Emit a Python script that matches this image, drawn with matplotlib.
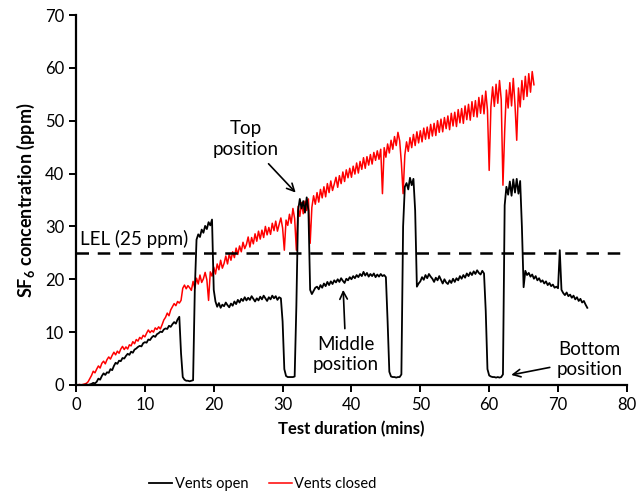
import numpy as np
import matplotlib
matplotlib.use("Agg")
import matplotlib.pyplot as plt

plt.rcParams['font.family'] = ['Lato', 'DejaVu Sans']
plt.rcParams['mathtext.fontset'] = 'custom'
plt.rcParams['mathtext.rm'] = 'Lato'
plt.rcParams['mathtext.bf'] = 'Lato:bold'

# sampling interval of the logger (mins)
step = 0.25

# SF6 concentration (ppm), vents closed, one reading per 0.25 min
closed_ppm = [
    0.0, 0.0, 0.1, 0.0,  0.1, 0.2, 0.3, 0.6,  1.2, 1.8, 2.6, 2.3,
    3.0, 3.6, 3.2, 4.1,  4.5, 4.0, 4.8, 5.3,  4.9, 5.6, 6.2, 5.7,
    6.4, 6.0, 6.8, 7.3,  6.7, 7.2, 6.8, 7.6,  7.4, 8.2, 7.8, 8.6,
    8.3, 9.0, 8.7, 9.4,  9.1, 9.8, 10.4, 9.9,  10.3, 10.0, 10.8, 10.5,
    11.0, 10.6, 11.4, 12.3,  12.8, 13.6, 13.1, 14.2,  14.8, 15.4, 15.0, 15.8,
    15.5, 16.0, 18.3, 18.9,  18.2, 18.8, 18.4, 17.9,  19.6, 18.3, 20.2, 19.1,
    20.8, 19.4, 20.1, 21.3,  19.9, 16.0, 21.4, 20.6,  22.3, 21.0, 22.9, 21.8,
    23.6, 22.1, 23.0, 24.4,  22.9, 24.8, 23.6, 25.2,  24.1, 25.9, 24.7, 26.3,
    25.2, 27.0, 25.8, 26.6,  28.0, 26.1, 27.9, 26.7,  28.6, 27.2, 29.1, 27.6,
    29.3, 27.9, 30.0, 28.4,  29.8, 28.5, 30.6, 29.2,  31.0, 29.1, 30.4, 31.6,
    29.7, 25.5, 31.2, 30.2,  32.3, 30.6, 33.4, 31.5,  25.5, 33.8, 31.9, 34.5,
    32.4, 34.8, 33.0, 35.2,  26.8, 33.6, 35.8, 34.2,  36.4, 34.6, 37.0, 35.4,
    37.5, 35.6, 38.1, 36.4,  38.6, 36.8, 38.0, 39.3,  37.4, 39.6, 38.1, 40.3,
    38.5, 40.7, 39.2, 41.0,  39.3, 41.4, 39.9, 42.0,  40.1, 42.3, 40.8, 43.0,
    41.0, 43.2, 41.6, 43.6,  41.8, 44.0, 42.5, 44.3,  42.7, 44.6, 36.2, 44.9,
    43.1, 45.6, 43.9, 46.3,  44.6, 47.0, 45.3, 47.8,  46.2, 42.0, 36.2, 43.5,
    46.0, 44.2, 46.8, 44.9,  47.4, 45.3, 47.9, 45.8,  48.1, 46.0, 48.6, 46.5,
    48.8, 46.6, 49.3, 47.1,  49.5, 47.2, 50.0, 47.8,  50.3, 47.9, 50.6, 48.5,
    50.9, 48.3, 51.4, 49.0,  51.6, 48.9, 52.1, 49.6,  52.3, 49.5, 52.8, 50.2,
    53.1, 50.1, 53.6, 50.8,  53.8, 50.7, 54.4, 51.4,  54.8, 51.3, 55.6, 52.0,
    40.6, 52.6, 56.4, 52.7,  56.9, 53.3, 57.6, 54.0,  37.8, 48.0, 55.8, 52.4,
    57.2, 52.8, 58.0, 53.0,  46.3, 56.2, 52.6, 57.6,  54.0, 58.4, 54.6, 58.9,
    55.4, 59.3, 56.8,
]

# SF6 concentration (ppm), vents open, sensor moved between positions
open_ppm = [
    0.0, 0.0, 0.0, 0.0,  0.0, 0.0, 0.1, 0.0,  0.1, 0.2, 0.4, 0.3,
    0.6, 1.2, 1.0, 1.7,  2.2, 1.9, 2.4, 2.3,  3.0, 2.8, 3.6, 4.2,
    4.0, 4.6, 4.5, 5.1,  5.0, 5.5, 5.9, 5.7,  6.3, 6.1, 6.7, 6.9,
    7.2, 7.4, 7.3, 7.9,  8.1, 8.0, 8.6, 8.5,  9.0, 9.3, 9.1, 9.6,
    9.8, 10.1, 10.0, 10.5,  10.7, 10.6, 11.2, 11.0,  11.5, 11.9, 11.6, 12.4,
    12.9, 6.0, 1.5, 1.0,  0.8, 0.8, 0.7, 0.8,  0.9, 18.0, 27.5, 28.5,
    28.0, 29.4, 28.8, 30.1,  29.5, 30.8, 30.2, 31.3,  18.0, 15.8, 14.8, 15.5,
    14.6, 15.2, 14.9, 15.6,  15.1, 14.7, 15.4, 15.0,  15.8, 15.3, 16.1, 15.6,
    16.3, 15.9, 16.6, 16.0,  16.5, 16.1, 16.8, 16.3,  15.8, 16.4, 16.0, 16.7,
    16.2, 16.9, 16.4, 15.9,  16.6, 16.2, 16.9, 16.4,  16.8, 16.1, 16.6, 16.4,
    12.0, 3.0, 1.7, 1.5,  1.5, 1.5, 1.5, 1.6,  15.0, 33.0, 35.2, 33.4,
    34.8, 32.6, 35.5, 33.0,  18.0, 17.2, 17.8, 18.4,  18.6, 18.1, 18.9, 18.4,
    19.2, 18.7, 19.5, 18.9,  19.6, 19.1, 19.8, 19.4,  20.0, 19.5, 20.2, 19.7,
    19.3, 20.1, 19.8, 20.4,  20.0, 20.6, 20.2, 20.8,  20.4, 21.0, 20.6, 21.4,
    20.7, 21.2, 20.5, 21.0,  20.6, 21.1, 20.4, 20.9,  20.5, 21.0, 20.6, 20.8,
    20.4, 12.0, 2.5, 1.6,  1.5, 1.5, 1.4, 1.5,  1.5, 2.0, 30.0, 37.5,
    38.2, 37.0, 39.2, 37.8,  39.0, 33.0, 18.6, 19.2,  19.6, 20.4, 19.9, 20.8,
    20.2, 21.0, 20.5, 20.1,  19.5, 20.3, 19.8, 20.6,  19.9, 19.2, 20.0, 19.4,
    19.1, 19.8, 19.3, 20.1,  19.5, 20.2, 19.8, 20.6,  20.1, 20.8, 20.3, 21.1,
    20.6, 21.3, 20.8, 21.5,  21.0, 21.7, 21.2, 20.9,  21.6, 21.1, 14.0, 3.0,
    1.8, 1.6, 1.5, 1.5,  1.4, 1.5, 1.4, 1.5,  2.0, 34.0, 37.5, 36.0,
    38.5, 35.8, 38.9, 36.4,  39.0, 36.2, 38.6, 30.0,  18.5, 21.6, 20.8, 21.2,
    20.5, 20.9, 20.1, 20.6,  19.8, 20.2, 19.5, 19.8,  19.2, 19.6, 18.9, 19.3,
    18.7, 19.0, 18.4, 18.6,  18.3, 25.5, 18.0, 17.4,  17.0, 17.5, 16.8, 17.1,
    16.5, 16.9, 16.2, 16.6,  15.9, 16.3, 15.6, 15.9,  15.2, 14.6,
]

lel = 25
t_closed = np.arange(len(closed_ppm)) * step
t_open = np.arange(len(open_ppm)) * step

fig = plt.figure(figsize=(6.41, 4.97), dpi=100)
ax = fig.add_axes([0.1186, 0.2254, 0.8594, 0.7444])

ax.plot(t_open, open_ppm, color='black', lw=1.3, label='Vents open', zorder=3)
ax.plot(t_closed, closed_ppm, color='red', lw=1.1, label='Vents closed', zorder=2)
ax.axhline(lel, color='black', lw=1.8, dashes=(5, 3.5), zorder=4)

ax.set_xlim(0, 80)
ax.set_ylim(0, 70)
ax.set_xticks(range(0, 81, 10))
ax.set_yticks(range(0, 71, 10))
for s in ['top', 'right']:
    ax.spines[s].set_visible(False)
for s in ['left', 'bottom']:
    ax.spines[s].set_linewidth(1.6)
ax.tick_params(direction='out', length=5, width=1.4, labelsize=12)

ax.set_xlabel('Test duration (mins)', fontsize=12, fontweight='bold', labelpad=6)
ax.set_ylabel(r'SF$_\mathbf{6}$ concentration (ppm)', fontsize=13, fontweight='bold', labelpad=6)

# annotations
ax.text(0.6, 26.0, 'LEL (25 ppm)', fontsize=13.5, ha='left', va='bottom')
ax.annotate('Top\nposition', xy=(31.9, 36.4), xytext=(24.6, 46.5), fontsize=13.5,
            ha='center', va='center', linespacing=1.25,
            arrowprops=dict(arrowstyle='->', color='black', lw=1.2, shrinkA=3, shrinkB=0))
ax.annotate('Middle\nposition', xy=(38.8, 18.0), xytext=(39.2, 5.8), fontsize=13.5,
            ha='center', va='center', linespacing=1.25,
            arrowprops=dict(arrowstyle='->', color='black', lw=1.2, shrinkA=3, shrinkB=0))
ax.annotate('Bottom\nposition', xy=(63.2, 1.9), xytext=(74.6, 4.8), fontsize=13.5,
            ha='center', va='center', linespacing=1.25,
            arrowprops=dict(arrowstyle='->', color='black', lw=1.2, shrinkA=3, shrinkB=0))

fig.legend(loc='lower center', bbox_to_anchor=(0.41, -0.015), ncol=2, frameon=False,
           fontsize=10.5, handlelength=1.6, handletextpad=0.15, columnspacing=1.4)

fig.savefig('out.png', dpi=100)
